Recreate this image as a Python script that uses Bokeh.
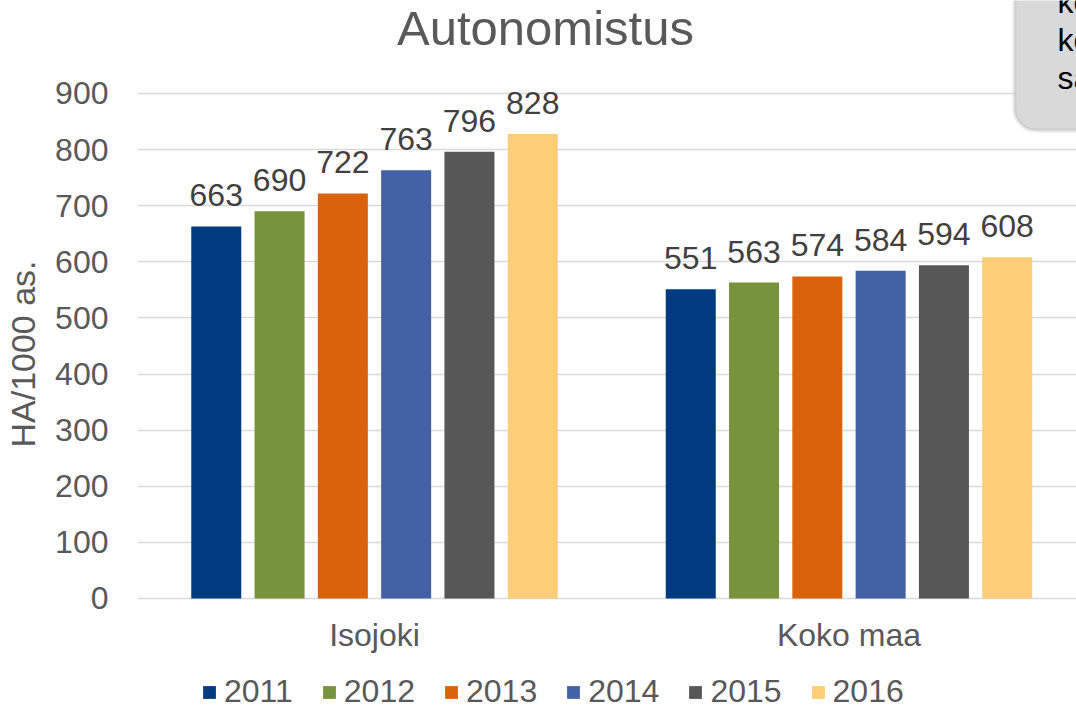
from bokeh.plotting import figure
from bokeh.models import (ColumnDataSource, Range1d, FixedTicker, LabelSet, Label,
                          BoxAnnotation, Legend, LegendItem)
from bokeh.core.properties import value
from bokeh.transform import dodge
from bokeh.embed import file_html
from bokeh.resources import INLINE

categories = ["Isojoki", "Koko maa"]
years = ["2011", "2012", "2013", "2014", "2015", "2016"]
v2011 = [663, 551]
v2012 = [690, 563]
v2013 = [722, 574]
v2014 = [763, 584]
v2015 = [796, 594]
v2016 = [828, 608]
y_ticks = [0, 100, 200, 300, 400, 500, 600, 700, 800, 900]
colors = ["#003A80", "#77933C", "#DA620C", "#4361A5", "#575757", "#FDCD78"]
series = [v2011, v2012, v2013, v2014, v2015, v2016]

FONT = "Liberation Sans"
GRAY = "#595959"

data = {"cat": list(range(len(categories))), "name": categories,
        "zero": [0] * len(categories)}
for y, s in zip(years, series):
    data["v" + y] = s
    data["t" + y] = [str(v) for v in s]
source = ColumnDataSource(data)

# frame covers the whole canvas right of the y axis; 0..900 occupies 505 px
p = figure(width=1076, height=707, output_backend="svg", toolbar_location=None,
           x_range=Range1d(-0.4995, 1.4795), y_range=Range1d(-194.26, 1065.74),
           min_border_left=137, min_border_right=0, min_border_top=0,
           min_border_bottom=0)
p.outline_line_color = None
p.background_fill_color = "white"
p.border_fill_color = "white"
p.xaxis.visible = False

pitch = 0.1334
bw = 0.1054
items = []
for i, (y, c) in enumerate(zip(years, colors)):
    off = (i - 2.5) * pitch
    r = p.vbar(x=dodge("cat", off, range=p.x_range), top="v" + y, width=bw,
               bottom=0, source=source, fill_color=c, line_color=None)
    items.append(LegendItem(label=y, renderers=[r]))
    p.add_layout(LabelSet(x=dodge("cat", off, range=p.x_range), y="v" + y, text="t" + y,
                          source=source, text_align="center", text_baseline="alphabetic",
                          y_offset=20, text_font=value(FONT), text_font_size="32px",
                          text_color="#404040"))

# category labels
p.add_layout(LabelSet(x="cat", y="zero", text="name", source=source,
                      text_align="center", text_baseline="alphabetic", y_offset=-48,
                      text_font=value(FONT), text_font_size="32px", text_color=GRAY))

p.yaxis.ticker = FixedTicker(ticks=y_ticks)
p.yaxis.axis_line_color = None
p.yaxis.major_tick_line_color = None
p.yaxis.minor_tick_line_color = None
p.yaxis.major_tick_out = 0
p.yaxis.major_label_standoff = 29
p.yaxis.major_label_text_font = FONT
p.yaxis.major_label_text_font_size = "32px"
p.yaxis.major_label_text_color = GRAY
p.yaxis.axis_label = "HA/1000 as."
p.yaxis.axis_label_text_font = FONT
p.yaxis.axis_label_text_font_size = "34px"
p.yaxis.axis_label_text_font_style = "normal"
p.yaxis.axis_label_text_color = GRAY
p.yaxis.axis_label_standoff = 10

p.xgrid.grid_line_color = None
p.ygrid.grid_line_color = "#D9D9D9"
p.ygrid.grid_line_width = 1.5

# title
p.add_layout(Label(x=408, y=680, x_units="screen", y_units="screen",
                   text="Autonomistus", text_align="center", text_baseline="alphabetic",
                   text_font=FONT, text_font_size="49px", text_color=GRAY))

# top-right note box (cut off by the edge)
p.add_layout(BoxAnnotation(left=877, right=1000, bottom=577, top=800,
                           left_units="screen", right_units="screen",
                           bottom_units="screen", top_units="screen",
                           fill_color="#D9D9D9", fill_alpha=1.0,
                           line_color="#B4B4B4", line_width=4, border_radius=22,
                           level="annotation"))
for txt, yy in zip(["ko", "ko", "sa"], [706, 668, 630]):
    p.add_layout(Label(x=920, y=yy, x_units="screen", y_units="screen", text=txt,
                       text_align="left", text_baseline="alphabetic",
                       text_font=FONT, text_font_size="32px", text_color="#000000"))

legend = Legend(items=items, orientation="horizontal", location=(64, -3),
                glyph_width=16, glyph_height=16, label_standoff=7, spacing=28,
                padding=0, margin=0, border_line_color=None,
                background_fill_alpha=0, label_text_font=FONT,
                label_text_font_size="32px", label_text_color=GRAY)
p.add_layout(legend, "center")

open("out.html", "w").write(file_html(p, INLINE))
